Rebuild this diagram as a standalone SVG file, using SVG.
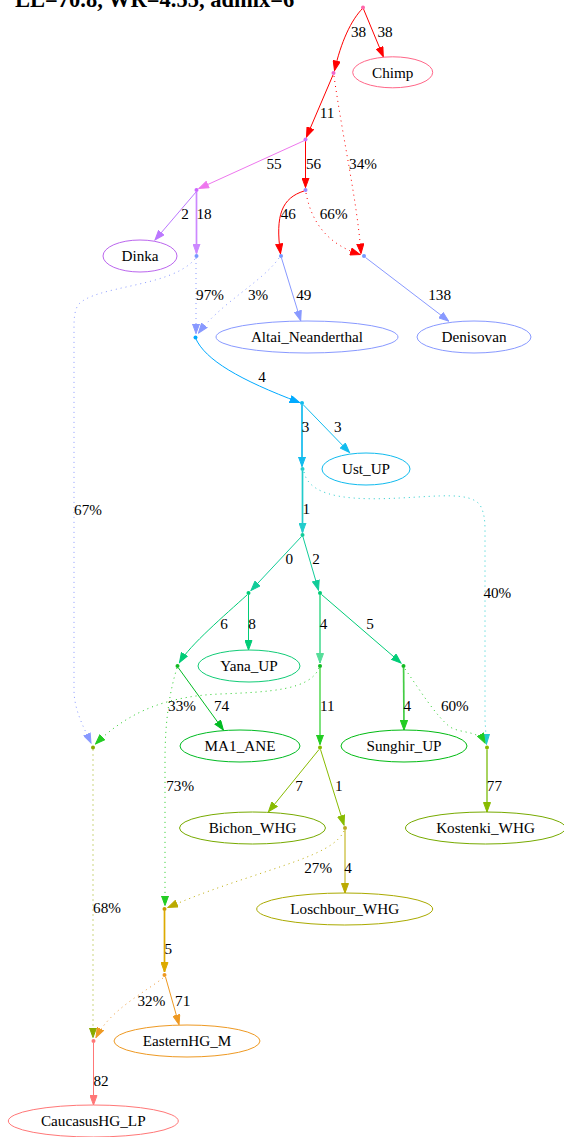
<svg xmlns="http://www.w3.org/2000/svg" width="564" height="1137" viewBox="0 0 564 1137">
<style>
.e{fill:none;stroke-width:1}
.w{stroke-width:1.7}
.d{stroke-dasharray:1,4}
.t{font-family:"Liberation Serif","Times New Roman",serif;font-size:15.2px;fill:#000;text-anchor:middle}
.title{font-family:"Liberation Serif","Times New Roman",serif;font-size:22.5px;font-weight:bold;fill:#000}
.n{fill:#fff}
</style>
<defs>
<marker id="m-red" markerUnits="userSpaceOnUse" markerWidth="11" markerHeight="8" refX="10" refY="4" orient="auto"><path d="M0.5,0.5 L10,4 L0.5,7.5 z" fill="#ff0000" stroke="#ff0000"/></marker>
<marker id="m-violet" markerUnits="userSpaceOnUse" markerWidth="11" markerHeight="8" refX="10" refY="4" orient="auto"><path d="M0.5,0.5 L10,4 L0.5,7.5 z" fill="#ee77ee" stroke="#ee77ee"/></marker>
<marker id="m-purple" markerUnits="userSpaceOnUse" markerWidth="11" markerHeight="8" refX="10" refY="4" orient="auto"><path d="M0.5,0.5 L10,4 L0.5,7.5 z" fill="#bb77ff" stroke="#bb77ff"/></marker>
<marker id="m-lav" markerUnits="userSpaceOnUse" markerWidth="11" markerHeight="8" refX="10" refY="4" orient="auto"><path d="M0.5,0.5 L10,4 L0.5,7.5 z" fill="#cc88ff" stroke="#cc88ff"/></marker>
<marker id="m-blue" markerUnits="userSpaceOnUse" markerWidth="11" markerHeight="8" refX="10" refY="4" orient="auto"><path d="M0.5,0.5 L10,4 L0.5,7.5 z" fill="#8899ff" stroke="#8899ff"/></marker>
<marker id="m-sky" markerUnits="userSpaceOnUse" markerWidth="11" markerHeight="8" refX="10" refY="4" orient="auto"><path d="M0.5,0.5 L10,4 L0.5,7.5 z" fill="#00aaff" stroke="#00aaff"/></marker>
<marker id="m-cyan" markerUnits="userSpaceOnUse" markerWidth="11" markerHeight="8" refX="10" refY="4" orient="auto"><path d="M0.5,0.5 L10,4 L0.5,7.5 z" fill="#11bbee" stroke="#11bbee"/></marker>
<marker id="m-turq" markerUnits="userSpaceOnUse" markerWidth="11" markerHeight="8" refX="10" refY="4" orient="auto"><path d="M0.5,0.5 L10,4 L0.5,7.5 z" fill="#22cccc" stroke="#22cccc"/></marker>
<marker id="m-teal" markerUnits="userSpaceOnUse" markerWidth="11" markerHeight="8" refX="10" refY="4" orient="auto"><path d="M0.5,0.5 L10,4 L0.5,7.5 z" fill="#11cc99" stroke="#11cc99"/></marker>
<marker id="m-g1" markerUnits="userSpaceOnUse" markerWidth="11" markerHeight="8" refX="10" refY="4" orient="auto"><path d="M0.5,0.5 L10,4 L0.5,7.5 z" fill="#00cc77" stroke="#00cc77"/></marker>
<marker id="m-lg" markerUnits="userSpaceOnUse" markerWidth="11" markerHeight="8" refX="10" refY="4" orient="auto"><path d="M0.5,0.5 L10,4 L0.5,7.5 z" fill="#55dd99" stroke="#55dd99"/></marker>
<marker id="m-g2" markerUnits="userSpaceOnUse" markerWidth="11" markerHeight="8" refX="10" refY="4" orient="auto"><path d="M0.5,0.5 L10,4 L0.5,7.5 z" fill="#00bb22" stroke="#00bb22"/></marker>
<marker id="m-g3" markerUnits="userSpaceOnUse" markerWidth="11" markerHeight="8" refX="10" refY="4" orient="auto"><path d="M0.5,0.5 L10,4 L0.5,7.5 z" fill="#22cc22" stroke="#22cc22"/></marker>
<marker id="m-olive" markerUnits="userSpaceOnUse" markerWidth="11" markerHeight="8" refX="10" refY="4" orient="auto"><path d="M0.5,0.5 L10,4 L0.5,7.5 z" fill="#88bb00" stroke="#88bb00"/></marker>
<marker id="m-gold" markerUnits="userSpaceOnUse" markerWidth="11" markerHeight="8" refX="10" refY="4" orient="auto"><path d="M0.5,0.5 L10,4 L0.5,7.5 z" fill="#bbaa00" stroke="#bbaa00"/></marker>
<marker id="m-olive2" markerUnits="userSpaceOnUse" markerWidth="11" markerHeight="8" refX="10" refY="4" orient="auto"><path d="M0.5,0.5 L10,4 L0.5,7.5 z" fill="#88aa00" stroke="#88aa00"/></marker>
<marker id="m-amber" markerUnits="userSpaceOnUse" markerWidth="11" markerHeight="8" refX="10" refY="4" orient="auto"><path d="M0.5,0.5 L10,4 L0.5,7.5 z" fill="#ddaa00" stroke="#ddaa00"/></marker>
<marker id="m-orange" markerUnits="userSpaceOnUse" markerWidth="11" markerHeight="8" refX="10" refY="4" orient="auto"><path d="M0.5,0.5 L10,4 L0.5,7.5 z" fill="#ee9922" stroke="#ee9922"/></marker>
<marker id="m-salmon" markerUnits="userSpaceOnUse" markerWidth="11" markerHeight="8" refX="10" refY="4" orient="auto"><path d="M0.5,0.5 L10,4 L0.5,7.5 z" fill="#ff7777" stroke="#ff7777"/></marker>
</defs>
<rect width="564" height="1137" fill="#fff"/>
<text class="title" x="15" y="6.5">LL=70.8, WR=4.55, admix=6</text>

<g id="connectors">
<path class="e" stroke="#ff0000" marker-end="url(#m-red)" d="M363,8 C351,20 341,42 334.5,70.5"/>
<path class="e" stroke="#ff0000" marker-end="url(#m-red)" d="M363.5,9 L383.3,56.7"/>
<path class="e" stroke="#ff0000" marker-end="url(#m-red)" d="M333,75 L306.5,137"/>
<path class="e d" stroke="#ff0000" marker-end="url(#m-red)" d="M334,76 C343,140 357,200 361,253.5"/>
<path class="e" stroke="#ee77ee" marker-end="url(#m-violet)" d="M304.5,140.5 L199,188.5"/>
<path class="e" stroke="#ff0000" marker-end="url(#m-red)" d="M305.5,141 L305.5,187.5"/>
<path class="e" stroke="#bb77ff" marker-end="url(#m-purple)" d="M196,192 L155,240"/>
<path class="e w" stroke="#cc88ff" marker-end="url(#m-lav)" d="M196.5,192 L196.5,253.5"/>
<path class="e" stroke="#ff0000" marker-end="url(#m-red)" d="M304,191 C282,198 275,215 280.5,253.5"/>
<path class="e d" stroke="#ff0000" marker-end="url(#m-red)" d="M306,193 C312,225 330,245 360,254.5"/>
<path class="e d" stroke="#8899ff" marker-end="url(#m-blue)" d="M196,258 L196,333.5"/>
<path class="e d" stroke="#8899ff" marker-end="url(#m-blue)" d="M195,259 C170,288 95,285 78,305 C74,312 74,320 74,330 L74,690 C74,710 84,728 91,743"/>
<path class="e d" stroke="#8899ff" marker-end="url(#m-blue)" d="M279,258 C262,282 222,302 198.5,333"/>
<path class="e" stroke="#8899ff" marker-end="url(#m-blue)" d="M281.5,258 L300.7,320.5"/>
<path class="e" stroke="#8899ff" marker-end="url(#m-blue)" d="M365.5,257.5 L448.6,321"/>
<path class="e" stroke="#00aaff" marker-end="url(#m-sky)" d="M195.5,338 C205,360 240,380 299.5,402.5"/>
<path class="e w" stroke="#11bbee" marker-end="url(#m-cyan)" d="M302,405 L302,466.5"/>
<path class="e" stroke="#11bbee" marker-end="url(#m-cyan)" d="M303,404.5 L349.5,452.5"/>
<path class="e w" stroke="#22cccc" marker-end="url(#m-turq)" d="M302.5,471 L302.5,532.5"/>
<path class="e d" stroke="#22cccc" marker-end="url(#m-turq)" d="M304,472 C310,500 360,500 400,498 C440,496 470,492 480,505 C484,512 485,520 485,530 L485,720 L486.5,744"/>
<path class="e" stroke="#11cc99" marker-end="url(#m-teal)" d="M301.5,536.5 L251,590.5"/>
<path class="e" stroke="#11cc99" marker-end="url(#m-teal)" d="M303,537 L318.5,590"/>
<path class="e" stroke="#00cc77" marker-end="url(#m-g1)" d="M247,595 C225,615 190,645 179.5,662.5"/>
<path class="e" stroke="#00cc77" marker-end="url(#m-g1)" d="M248.5,595 L248.5,650"/>
<path class="e w" stroke="#55dd99" marker-end="url(#m-lg)" d="M320,595 L320,663"/>
<path class="e" stroke="#00cc77" marker-end="url(#m-g1)" d="M321.5,594.5 L401,663"/>
<path class="e" stroke="#00bb22" marker-end="url(#m-g2)" d="M178.5,668 L223.4,730"/>
<path class="e d" stroke="#22cc22" marker-end="url(#m-g3)" d="M177,668 C170,690 165,720 165,760 L165,905.5"/>
<path class="e d" stroke="#22cc22" marker-end="url(#m-g3)" d="M319,668 C310,690 270,692 220,694 C170,696 130,710 95.5,744"/>
<path class="e w" stroke="#66dd66" marker-end="url(#m-g3)" d="M320,668 L320,744.5"/>
<path class="e w" stroke="#44cc44" marker-end="url(#m-g3)" d="M403.6,668 L404,730"/>
<path class="e d" stroke="#22cc22" marker-end="url(#m-g3)" d="M405,669 C420,690 435,715 450,727 C462,734 478,730 485,743"/>
<path class="e d" stroke="#99aa00" marker-end="url(#m-olive2)" d="M93,749.5 L93,1037.5"/>
<path class="e" stroke="#88bb00" marker-end="url(#m-olive)" d="M319,749.5 L268.5,811.7"/>
<path class="e" stroke="#88bb00" marker-end="url(#m-olive)" d="M320.5,749.5 L344,825"/>
<path class="e w" stroke="#99cc44" marker-end="url(#m-olive)" d="M487,749.5 L487,812"/>
<path class="e" stroke="#bbaa00" marker-end="url(#m-gold)" d="M345,830 L345,893"/>
<path class="e d" stroke="#bbaa00" marker-end="url(#m-gold)" d="M344,831 C335,850 300,860 250,877 C210,890 185,900 168,907.5"/>
<path class="e w" stroke="#ddaa00" marker-end="url(#m-amber)" d="M164.5,911 L164.5,972"/>
<path class="e" stroke="#ee9922" marker-end="url(#m-orange)" d="M165.5,977 L179,1024.5"/>
<path class="e d" stroke="#ee9933" marker-end="url(#m-orange)" d="M163,978 C145,992 110,1010 96,1037.5"/>
<path class="e" stroke="#ff7777" marker-end="url(#m-salmon)" d="M93.5,1043 L93.5,1105"/>

<text class="t" x="358.6" y="37.3">38</text>
<text class="t" x="385" y="37.3">38</text>
<text class="t" x="327" y="118.3">11</text>
<text class="t" x="274" y="169.3">55</text>
<text class="t" x="313.5" y="169.3">56</text>
<text class="t" x="363" y="169.3">34%</text>
<text class="t" x="185" y="219">2</text>
<text class="t" x="204" y="219">18</text>
<text class="t" x="288.3" y="219">46</text>
<text class="t" x="333.7" y="219">66%</text>
<text class="t" x="210" y="300">97%</text>
<text class="t" x="258" y="300">3%</text>
<text class="t" x="303.8" y="300">49</text>
<text class="t" x="439.6" y="300">138</text>
<text class="t" x="262" y="382">4</text>
<text class="t" x="305.6" y="432.3">3</text>
<text class="t" x="337.7" y="432.3">3</text>
<text class="t" x="88" y="515">67%</text>
<text class="t" x="306.3" y="514.3">1</text>
<text class="t" x="289.4" y="564.3">0</text>
<text class="t" x="316" y="564.3">2</text>
<text class="t" x="497.3" y="597.7">40%</text>
<text class="t" x="224" y="629">6</text>
<text class="t" x="252" y="629">8</text>
<text class="t" x="323.6" y="629">4</text>
<text class="t" x="370" y="629">5</text>
<text class="t" x="182" y="710.7">33%</text>
<text class="t" x="221.6" y="710.7">74</text>
<text class="t" x="327.2" y="710.7">11</text>
<text class="t" x="407.2" y="710.7">4</text>
<text class="t" x="454.8" y="710.7">60%</text>
<text class="t" x="180.2" y="791">73%</text>
<text class="t" x="299" y="791">7</text>
<text class="t" x="338.7" y="791">1</text>
<text class="t" x="494.4" y="791">77</text>
<text class="t" x="318.2" y="873.3">27%</text>
<text class="t" x="348.1" y="873.3">4</text>
<text class="t" x="107" y="913.3">68%</text>
<text class="t" x="168.3" y="954.3">5</text>
<text class="t" x="151.4" y="1005.7">32%</text>
<text class="t" x="182.7" y="1005.7">71</text>
<text class="t" x="101" y="1085.7">82</text>
</g>

<g id="root"><circle cx="363" cy="7.5" r="2" fill="#ff66aa"/></g>
<g id="Chimp"><ellipse class="n" cx="392.7" cy="72.3" rx="40" ry="15.5" stroke="#ff6688"/><text class="t" x="392.7" y="77.5">Chimp</text></g>
<g id="n2"><circle cx="333.5" cy="73" r="2" fill="#ee66cc"/></g>
<g id="n3"><circle cx="305.5" cy="139.5" r="2" fill="#cc77ff"/></g>
<g id="DinkaP"><circle cx="196.5" cy="190" r="2" fill="#cc66ff"/></g>
<g id="n4"><circle cx="305.5" cy="190" r="2" fill="#9988ff"/></g>
<g id="Dinka"><ellipse class="n" cx="140" cy="256" rx="37" ry="16" stroke="#bb66ee"/><text class="t" x="140" y="261.2">Dinka</text></g>
<g id="n18"><circle cx="196.5" cy="256" r="2" fill="#7799ff"/></g>
<g id="n46"><circle cx="281" cy="256" r="2" fill="#7799ff"/></g>
<g id="DenP"><circle cx="364" cy="256" r="2" fill="#7799ff"/></g>
<g id="Altai_Neanderthal"><ellipse class="n" cx="307" cy="337" rx="91" ry="16" stroke="#8899ff"/><text class="t" x="307" y="342.2">Altai_Neanderthal</text></g>
<g id="Denisovan"><ellipse class="n" cx="474" cy="337" rx="57" ry="16" stroke="#8899ff"/><text class="t" x="474" y="342.2">Denisovan</text></g>
<g id="admixA"><circle cx="195.5" cy="337.5" r="2" fill="#00aaff"/></g>
<g id="n5"><circle cx="302" cy="403" r="2" fill="#11bbee"/></g>
<g id="Ust_UP"><ellipse class="n" cx="366" cy="469" rx="44" ry="16" stroke="#11bbee"/><text class="t" x="366" y="474.2">Ust_UP</text></g>
<g id="n6"><circle cx="302.5" cy="469" r="2" fill="#22cccc"/></g>
<g id="n7"><circle cx="302.5" cy="535" r="2" fill="#11cc99"/></g>
<g id="n8"><circle cx="248.5" cy="593" r="2" fill="#00cc77"/></g>
<g id="n9"><circle cx="320" cy="593" r="2" fill="#00cc77"/></g>
<g id="n10"><circle cx="177.5" cy="666" r="2" fill="#11bb22"/></g>
<g id="Yana_UP"><ellipse class="n" cx="249" cy="666" rx="51" ry="16" stroke="#11cc77"/><text class="t" x="249" y="671.2">Yana_UP</text></g>
<g id="n11"><circle cx="320" cy="666" r="2" fill="#11bb22"/></g>
<g id="n12"><circle cx="403.5" cy="666" r="2" fill="#11bb22"/></g>
<g id="admixB"><circle cx="93" cy="747.5" r="2" fill="#88aa00"/></g>
<g id="MA1_ANE"><ellipse class="n" cx="240" cy="746" rx="60" ry="16" stroke="#00bb22"/><text class="t" x="240" y="751.2">MA1_ANE</text></g>
<g id="n13"><circle cx="320" cy="747.5" r="2" fill="#88bb00"/></g>
<g id="Sunghir_UP"><ellipse class="n" cx="404" cy="746" rx="63" ry="16" stroke="#00bb11"/><text class="t" x="404" y="751.2">Sunghir_UP</text></g>
<g id="admixD"><circle cx="487" cy="747.5" r="2" fill="#88bb00"/></g>
<g id="Bichon_WHG"><ellipse class="n" cx="252.5" cy="828" rx="73" ry="16" stroke="#77aa00"/><text class="t" x="252.5" y="833.2">Bichon_WHG</text></g>
<g id="n14"><circle cx="345" cy="828" r="2" fill="#bbaa22"/></g>
<g id="Kostenki_WHG"><ellipse class="n" cx="485.5" cy="828" rx="80" ry="16" stroke="#77aa00"/><text class="t" x="485.5" y="833.2">Kostenki_WHG</text></g>
<g id="admixC"><circle cx="164.5" cy="909" r="2" fill="#cc9900"/></g>
<g id="Loschbour_WHG"><ellipse class="n" cx="344.7" cy="909" rx="88" ry="16" stroke="#aaaa00"/><text class="t" x="344.7" y="914.2">Loschbour_WHG</text></g>
<g id="n15"><circle cx="164.5" cy="975" r="2" fill="#ee9922"/></g>
<g id="admixE"><circle cx="93.5" cy="1041" r="2" fill="#ff7777"/></g>
<g id="EasternHG_M"><ellipse class="n" cx="187" cy="1041" rx="73" ry="16" stroke="#ee9922"/><text class="t" x="187" y="1046.2">EasternHG_M</text></g>
<g id="CaucasusHG_LP"><ellipse class="n" cx="93.3" cy="1121" rx="85" ry="16" stroke="#ff7777"/><text class="t" x="93.3" y="1126.2">CaucasusHG_LP</text></g>
</svg>
